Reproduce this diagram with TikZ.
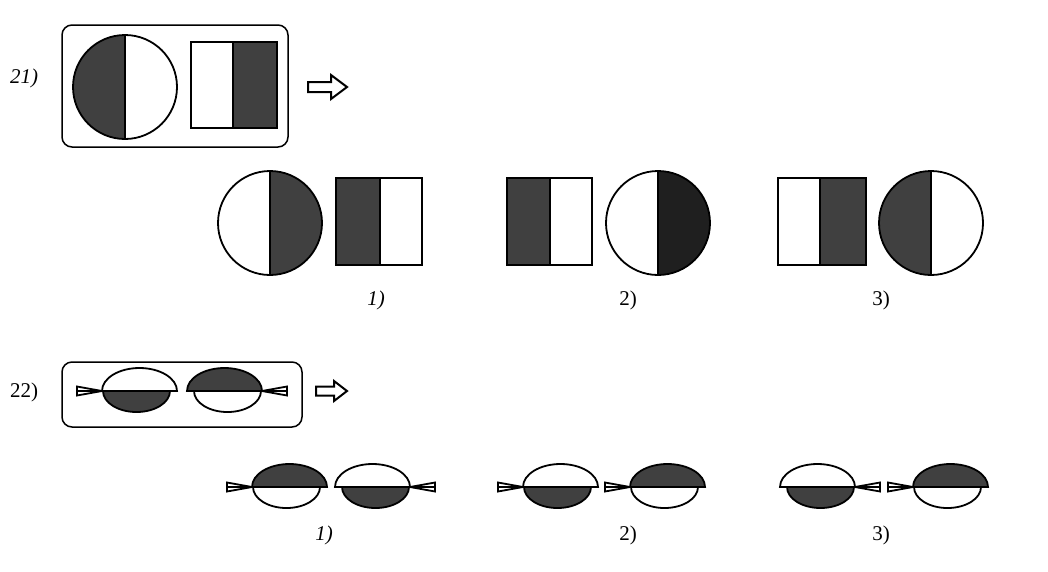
\documentclass[tikz,border=0pt]{standalone}
\usepackage{fontspec}
\setmainfont{Liberation Serif}
\usepackage{tikz}

\tikzset{
  shade/.style={fill=black!75},
  dark/.style={fill=black!88},
  fig/.style={line width=1.8pt},
  frame/.style={line width=1.5pt,rounded corners=10pt},
  hollow/.style={line width=2pt,line join=miter},
  num/.style={font=\fontsize{21}{24}\selectfont}
}
% #1 apex x, #2 y, #3 direction, #4 upper fill, #5 lower fill
\newcommand{\spoon}[5]{%
  \begin{scope}[shift={(#1,-#2)},xscale=#3]
    \draw[fig,fill=white] (-25,4.5) -- (-25,-4.5) -- (0,0) -- cycle;
    \draw[fig,#4] (0,0) arc[start angle=180,end angle=0,x radius=37.5,y radius=23] -- cycle;
    \draw[fig,#5] (1,0) arc[start angle=180,end angle=360,x radius=33.5,y radius=21] -- cycle;
    \draw[line width=2.2pt] (-25,0) -- (75,0);
  \end{scope}}

\begin{document}
\begin{tikzpicture}[x=1pt,y=1pt]
\useasboundingbox (0,0) rectangle (1048,-571);

% task 21
\node[num] (l21) at (24,-78) {\textit{21)}};
\draw[frame] (62,-25) rectangle (288,-147);
\fill[shade] (125,-35) arc[start angle=90,end angle=270,radius=52] -- cycle;
\draw[fig] (125,-87) circle[radius=52];
\draw[fig] (125,-35) -- (125,-139);
\fill[shade] (233,-42) rectangle (277,-128);
\draw[fig] (191,-42) rectangle (277,-128);
\draw[fig] (233,-42) -- (233,-128);
\draw[hollow] (308,-82) -- (331,-82) -- (331,-75) -- (347,-87) -- (331,-99) -- (331,-92) -- (308,-92) -- cycle;

% answers 21
\fill[shade] (270,-171) arc[start angle=90,end angle=-90,radius=52] -- cycle;
\draw[fig] (270,-223) circle[radius=52];
\draw[fig] (270,-171) -- (270,-275);
\fill[shade] (336,-178) rectangle (380,-265);
\draw[fig] (336,-178) rectangle (422,-265);
\draw[fig] (380,-178) -- (380,-265);
\node[num] (a1) at (376,-300) {\textit{1)}};

\fill[shade] (507,-178) rectangle (550,-265);
\draw[fig] (507,-178) rectangle (592,-265);
\draw[fig] (550,-178) -- (550,-265);
\fill[dark] (658,-171) arc[start angle=90,end angle=-90,radius=52] -- cycle;
\draw[fig] (658,-223) circle[radius=52];
\draw[fig] (658,-171) -- (658,-275);
\node[num] (a2) at (628,-300) {2)};

\fill[shade] (820,-178) rectangle (866,-265);
\draw[fig] (778,-178) rectangle (866,-265);
\draw[fig] (820,-178) -- (820,-265);
\fill[shade] (931,-171) arc[start angle=90,end angle=270,radius=52] -- cycle;
\draw[fig] (931,-223) circle[radius=52];
\draw[fig] (931,-171) -- (931,-275);
\node[num] (a3) at (881,-300) {3)};

% task 22
\node[num] (l22) at (24,-392) {22)};
\draw[frame] (62,-362) rectangle (302,-427);
\spoon{102}{391}{1}{fill=white}{shade}
\spoon{262}{391}{-1}{shade}{fill=white}
\draw[hollow] (316,-386.5) -- (334,-386.5) -- (334,-381) -- (347,-391) -- (334,-401) -- (334,-395.5) -- (316,-395.5) -- cycle;

% answers 22
\spoon{252}{487}{1}{shade}{fill=white}
\spoon{410}{487}{-1}{fill=white}{shade}
\node[num] (b1) at (324,-535) {\textit{1)}};
\spoon{523}{487}{1}{fill=white}{shade}
\spoon{630}{487}{1}{shade}{fill=white}
\node[num] (b2) at (628,-535) {2)};
\spoon{855}{487}{-1}{fill=white}{shade}
\spoon{913}{487}{1}{shade}{fill=white}
\node[num] (b3) at (881,-535) {3)};
\end{tikzpicture}
\end{document}
